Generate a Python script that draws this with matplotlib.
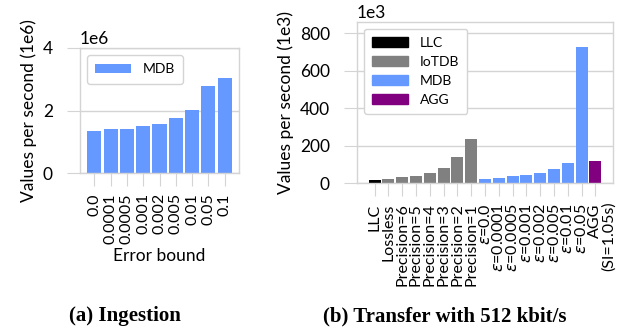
import matplotlib
matplotlib.use('Agg')
from matplotlib import pyplot as plt
from matplotlib import transforms

# (a) ingestion
error_bounds = ['0.0', '0.0001', '0.0005', '0.001', '0.002', '0.005', '0.01', '0.05', '0.1']
ingestion_mdb = [1.35e6, 1.42e6, 1.42e6, 1.51e6, 1.57e6, 1.76e6, 2.01e6, 2.80e6, 3.03e6]

# (b) transfer with 512 kbit/s
transfer_labels = ['LLC', 'Lossless', 'Precision=6', 'Precision=5', 'Precision=4',
                   'Precision=3', 'Precision=2', 'Precision=1',
                   '$\\epsilon$=0.0', '$\\epsilon$=0.0001', '$\\epsilon$=0.0005',
                   '$\\epsilon$=0.001', '$\\epsilon$=0.002', '$\\epsilon$=0.005',
                   '$\\epsilon$=0.01', '$\\epsilon$=0.05', 'AGG']
transfer_values = [18e3, 23e3, 34e3, 39e3, 55e3, 82e3, 141e3, 237e3,
                   23e3, 29e3, 39e3, 46e3, 55e3, 77e3, 109e3, 725e3, 120e3]
transfer_system = ['LLC', 'IoTDB', 'IoTDB', 'IoTDB', 'IoTDB', 'IoTDB', 'IoTDB', 'IoTDB',
                   'MDB', 'MDB', 'MDB', 'MDB', 'MDB', 'MDB', 'MDB', 'MDB', 'AGG']
agg_note = '(SI=1.05s)'

colors = {'LLC': 'black', 'IoTDB': 'gray', 'MDB': '#6699ff', 'AGG': 'purple'}
grid_gray = '#d4d4d4'

plt.rcParams.update({
    'font.family': ['Lato', 'DejaVu Sans'],
    'font.size': 12,
    'axes.edgecolor': grid_gray,
    'axes.linewidth': 1.0,
    'xtick.color': grid_gray,
    'ytick.color': grid_gray,
    'xtick.labelcolor': 'black',
    'ytick.labelcolor': 'black',
    'xtick.major.size': 9.5,
    'ytick.major.size': 9.5,
    'xtick.labelsize': 11.5,
    'ytick.labelsize': 12.5,
    'legend.fontsize': 10,
})

fig = plt.figure(figsize=(6.36, 3.32), dpi=100)
ax1 = fig.add_axes([80 / 636, 1 - 173 / 332, 159 / 636, 125 / 332])
ax2 = fig.add_axes([357 / 636, 1 - 183.3 / 332, 256 / 636, 161.6 / 332])

for ax in (ax1, ax2):
    ax.set_axisbelow(True)
    ax.grid(axis='y', color=grid_gray, linewidth=1.0)
    ax.tick_params(axis='y', pad=10)
    ax.tick_params(axis='x', pad=5)

# --- left ---
ax1.bar(range(len(ingestion_mdb)), ingestion_mdb, width=0.86,
        color=colors['MDB'], label='MDB')
ax1.set_xticks(range(len(error_bounds)))
ax1.set_xticklabels(error_bounds, rotation=90)
ax1.set_ylim(0, 4e6)
ax1.set_yticks([0, 2e6, 4e6])
ax1.yaxis.get_offset_text().set_fontsize(12.5)
ax1.set_xlabel('Error bound', fontsize=12.5, labelpad=3)
ax1.set_ylabel('Values per second (1e6)', fontsize=12.5, labelpad=4)
ax1.legend(loc='upper left', handlelength=2.6, borderpad=0.6, framealpha=1,
           edgecolor=grid_gray)

# --- right ---
bar_colors = [colors[s] for s in transfer_system]
ax2.bar(range(len(transfer_values)), transfer_values, width=0.86, color=bar_colors)
ax2.set_xticks(range(len(transfer_labels)))
ax2.set_xticklabels(transfer_labels, rotation=90)
ax2.set_ylim(0, 862e3)
ax2.set_yticks([0, 200e3, 400e3, 600e3, 800e3])
ax2.ticklabel_format(axis='y', style='sci', scilimits=(3, 3))
ax2.yaxis.get_offset_text().set_fontsize(12.5)
ax2.set_ylabel('Values per second (1e3)', fontsize=12.5, labelpad=4)

trans = transforms.blended_transform_factory(ax2.transData, ax2.transAxes)
ax2.text(len(transfer_values) - 1 + 0.95, -0.11, agg_note, rotation=90,
         ha='center', va='top', fontsize=11.5, transform=trans)

handles = [plt.Rectangle((0, 0), 1, 1, color=colors[k]) for k in ['LLC', 'IoTDB', 'MDB', 'AGG']]
ax2.legend(handles, ['LLC', 'IoTDB', 'MDB', 'AGG'], loc='upper left',
           handlelength=2.6, borderpad=0.6, framealpha=1, edgecolor=grid_gray)

fig.text(125 / 636, 1 - 316 / 332, '(a) Ingestion', ha='center', va='center',
         family='Liberation Serif', fontweight='bold', fontsize=15)
fig.text(445 / 636, 1 - 316 / 332, '(b) Transfer with 512 kbit/s', ha='center',
         va='center', family='Liberation Serif', fontweight='bold', fontsize=15)

fig.savefig('out.png', dpi=100)
